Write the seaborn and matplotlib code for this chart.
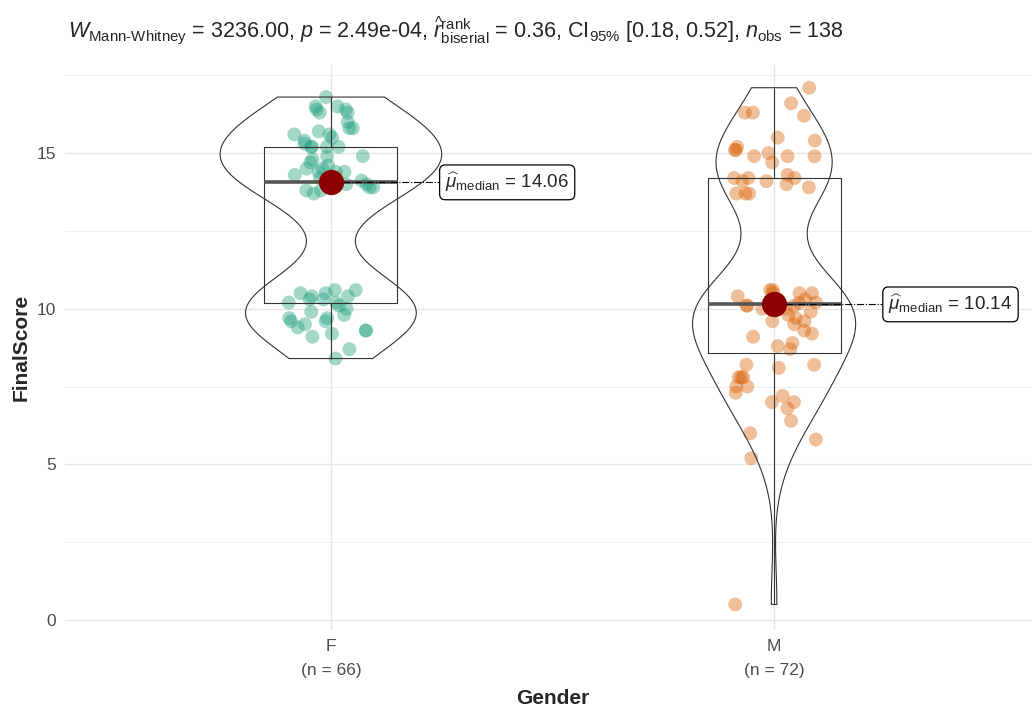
import numpy as np
import pandas as pd
import seaborn as sb
from matplotlib import pyplot as plt
from matplotlib import font_manager
from matplotlib.ticker import MultipleLocator


groups = ['F', 'M']
counts = [66, 72]

# scores, per group
scores_f = [8.4, 8.7, 9.1, 9.2, 9.3, 9.3, 9.4, 9.5, 9.6, 9.6, 9.7, 9.7, 9.8,
            9.9, 10.0, 10.1, 10.2, 10.2, 10.3, 10.3, 10.4, 10.4, 10.5, 10.5,
            10.6, 10.6,
            13.7, 13.8, 13.8, 13.9, 13.9, 14.0, 14.0, 14.12, 14.2, 14.3, 14.4,
            14.4, 14.4, 14.5, 14.5, 14.6, 14.7, 14.8, 14.9, 14.9, 15.2, 15.2,
            15.2, 15.2, 15.3, 15.4, 15.5, 15.6, 15.6, 15.7, 15.8, 15.8, 16.0,
            16.3, 16.3, 16.4, 16.4, 16.5, 16.5, 16.8]
scores_m = [0.5, 5.2, 5.8, 6.0, 6.4, 6.8, 7.0, 7.0, 7.2, 7.3, 7.5, 7.5, 7.8,
            7.8, 7.8, 8.1, 8.2, 8.2, 8.7,
            8.8, 8.9, 9.1, 9.2, 9.3, 9.5, 9.6, 9.6, 9.7, 9.8, 9.9, 10.0, 10.0,
            10.0, 10.1, 10.1, 10.1, 10.18, 10.2, 10.3, 10.3, 10.4, 10.5, 10.5,
            10.5, 10.6, 10.6,
            13.7, 13.7, 13.7, 13.9, 14.0, 14.1, 14.1, 14.2, 14.2, 14.2, 14.3,
            14.7, 14.9, 14.9, 14.9, 15.0, 15.1, 15.1, 15.2, 15.4, 15.5, 16.2,
            16.3, 16.3, 16.6, 17.1]

title = (r'$W_{\mathrm{Mann\text{-}Whitney}}$ = 3236.00, $p$ = 2.49e-04, '
         r'$\widehat{r}_{\mathrm{biserial}}^{\mathrm{rank}}$ = 0.36, '
         r'CI$_{95\%}$ [0.18, 0.52], $n_{\mathrm{obs}}$ = 138')

colors = ['#1B9E77', '#D95F02']


names = {f.name for f in font_manager.fontManager.ttflist}
family = 'Liberation Sans Narrow' if 'Liberation Sans Narrow' in names else 'Liberation Sans'

sb.set_style('white')
plt.rcParams['font.family'] = [family, 'DejaVu Sans']
plt.rcParams['mathtext.fontset'] = 'custom'
plt.rcParams['mathtext.rm'] = family
plt.rcParams['mathtext.it'] = family + ':italic'
plt.rcParams['mathtext.bf'] = family + ':bold'

df = pd.DataFrame({
    'Gender': ['F'] * len(scores_f) + ['M'] * len(scores_m),
    'FinalScore': scores_f + scores_m,
})

fig = plt.figure(figsize=(10.32, 7.15), dpi=100)
ax = fig.add_axes([65 / 1032, 84.7 / 715, 975 / 1032, 565.3 / 715])

np.random.seed(3)
sb.stripplot(data=df, x='Gender', y='FinalScore', hue='Gender', palette=colors,
             jitter=0.1, size=10, alpha=0.4, linewidth=0, legend=False,
             order=groups, ax=ax, zorder=2)
sb.boxplot(data=df, x='Gender', y='FinalScore', order=groups, width=0.3,
           fill=False, color='#333333', showfliers=False, showcaps=False,
           linewidth=0.8, medianprops={'linewidth': 2.6, 'color': '#555555'},
           ax=ax, zorder=3)
sb.violinplot(data=df, x='Gender', y='FinalScore', order=groups, fill=False,
              color='#333333', inner=None, cut=0, width=0.5,
              density_norm='area', bw_method='silverman', bw_adjust=0.85,
              linewidth=0.8, ax=ax, zorder=3)

medians = df.groupby('Gender')['FinalScore'].median()
for i, g in enumerate(groups):
    med = medians[g]
    ax.plot([i, i + 0.25], [med, med], color='black', lw=0.8,
            linestyle='-.', zorder=4)
    ax.scatter([i], [med], s=330, color='#8B0000', zorder=5, linewidth=0)
    ax.text(i + 0.258, med, r'$\widehat{\mu}_{\mathrm{median}}$ = %.2f' % med,
            ha='left', va='center', fontsize=13.5, zorder=6,
            bbox=dict(boxstyle='round,pad=0.3,rounding_size=0.3',
                      fc='white', ec='black', lw=0.9))

ax.set_xlim(-0.6, 1.6)
ax.set_ylim(-0.33, 17.83)
ax.yaxis.set_major_locator(MultipleLocator(5))
ax.yaxis.set_minor_locator(MultipleLocator(2.5))
ax.set_xticks(range(len(groups)))
ax.set_xticklabels([f'{g}\n(n = {n})' for g, n in zip(groups, counts)],
                   linespacing=1.75)

ax.grid(True, which='major', color='#E6E6E6', lw=1.0, zorder=0)
ax.grid(True, which='minor', axis='y', color='#EFEFEF', lw=0.7, zorder=0)
ax.set_axisbelow(True)
for s in ax.spines.values():
    s.set_visible(False)
ax.tick_params(axis='both', which='major', length=3, width=0.8,
               color='#4D4D4D', labelcolor='#4D4D4D', labelsize=12.5)
ax.tick_params(axis='y', which='minor', length=0)

ax.set_xlabel('Gender', fontsize=15, fontweight='bold', labelpad=8)
ax.set_ylabel('FinalScore', fontsize=15, fontweight='bold', labelpad=4)

fig.text(68 / 1032, 1 - 30 / 715, title, ha='left', va='center', fontsize=15.5)

fig.savefig('out.png', dpi=100)
